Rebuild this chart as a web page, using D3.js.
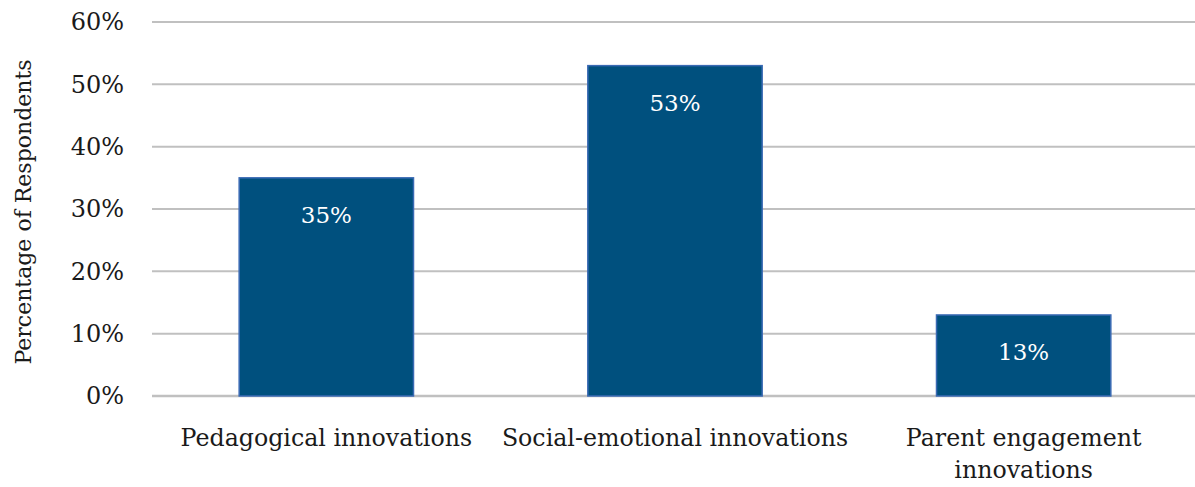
<!DOCTYPE html>
<html>
<head>
<meta charset="utf-8">
<script src="https://cdn.jsdelivr.net/npm/d3@7"></script>
<style>
  html, body { margin: 0; padding: 0; background: #fff; }
  svg { display: block; }
  text { font-family: "DejaVu Serif", "Liberation Serif", serif; }
</style>
</head>
<body>
<svg id="chart" width="1195" height="487"></svg>
<script>
// Share of respondents by innovation type
const categories = ["Pedagogical innovations", "Social-emotional innovations", "Parent engagement innovations"];
const categoryLines = [["Pedagogical innovations"], ["Social-emotional innovations"], ["Parent engagement", "innovations"]];
const values = [35, 53, 13];
const tickValues = [0, 10, 20, 30, 40, 50, 60];
const yTitle = "Percentage of Respondents";

const W = 1195, H = 487;
const margin = { top: 22, right: -3, bottom: 91, left: 152 };
const svg = d3.select("#chart");

const x = d3.scaleBand()
  .domain(categories)
  .range([margin.left, W - margin.right])
  .paddingInner(0.5)
  .paddingOuter(0.25);

const y = d3.scaleLinear()
  .domain([0, 60])
  .range([H - margin.bottom, margin.top]);

// horizontal gridlines
svg.append("g")
  .selectAll("line")
  .data(tickValues)
  .join("line")
  .attr("x1", margin.left)
  .attr("x2", W - margin.right)
  .attr("y1", d => y(d))
  .attr("y2", d => y(d))
  .attr("stroke", "#c0c0c0")
  .attr("stroke-width", d => d === 0 ? 2.5 : 2);

// y axis tick labels
const yAxis = d3.axisLeft(y)
  .tickValues(tickValues)
  .tickFormat(d => d + "%")
  .tickSize(0)
  .tickPadding(28);

svg.append("g")
  .attr("transform", `translate(${margin.left},0)`)
  .call(yAxis)
  .call(g => g.select(".domain").remove())
  .call(g => g.selectAll("text")
    .attr("font-family", "DejaVu Serif, serif")
    .attr("font-size", 24)
    .attr("fill", "#1a1a1a"));

// bars
svg.append("g")
  .selectAll("rect")
  .data(values)
  .join("rect")
  .attr("x", (d, i) => x(categories[i]))
  .attr("width", x.bandwidth())
  .attr("y", d => y(d))
  .attr("height", d => y(0) - y(d))
  .attr("fill", "#00507e")
  .attr("stroke", "#3a6ab4")
  .attr("stroke-width", 1.5);

// value labels inside bars
svg.append("g")
  .selectAll("text")
  .data(values)
  .join("text")
  .attr("x", (d, i) => x(categories[i]) + x.bandwidth() / 2)
  .attr("y", d => y(d) + 45)
  .attr("text-anchor", "middle")
  .attr("font-size", 23)
  .attr("fill", "#ffffff")
  .text(d => d + "%");

// category labels
const catG = svg.append("g")
  .selectAll("text")
  .data(categoryLines)
  .join("text")
  .attr("x", (d, i) => x(categories[i]) + x.bandwidth() / 2)
  .attr("y", 446)
  .attr("text-anchor", "middle")
  .attr("font-size", 23.7)
  .attr("fill", "#1a1a1a");

catG.selectAll("tspan")
  .data(d => d)
  .join("tspan")
  .attr("x", function () { return d3.select(this.parentNode).attr("x"); })
  .attr("dy", (d, i) => i === 0 ? 0 : 32)
  .text(d => d);

// y axis title
svg.append("text")
  .attr("transform", `translate(31,${(y(0) + y(60)) / 2 + 3}) rotate(-90)`)
  .attr("text-anchor", "middle")
  .attr("font-size", 22)
  .attr("fill", "#1a1a1a")
  .text(yTitle);
</script>
</body>
</html>
